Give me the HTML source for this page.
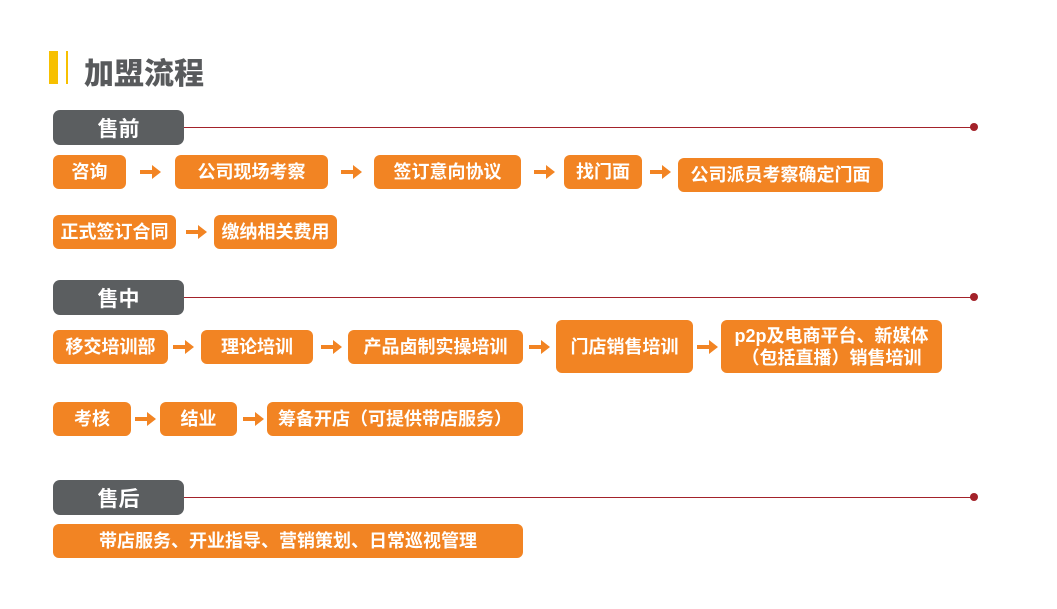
<!DOCTYPE html>
<html><head><meta charset="utf-8"><style>
*{margin:0;padding:0;box-sizing:border-box}
body{width:1057px;height:609px;background:#fff;position:relative;overflow:hidden;font-family:"Liberation Sans","Noto Sans CJK SC",sans-serif}
.b{position:absolute;background:#f28423;color:#fff;font-weight:bold;font-size:18px;border-radius:6px;display:flex;align-items:center;justify-content:center;text-align:center;line-height:22px}
.h{position:absolute;background:#5b5e60;color:#fff;font-weight:bold;font-size:21px;border-radius:7px;display:flex;align-items:center;justify-content:center;left:53px;width:131px;height:35px}
.l{position:absolute;left:184px;width:790px;height:1.5px;background:#a3222a}
.d{position:absolute;left:970px;width:8px;height:8px;border-radius:50%;background:#a3222a}
</style></head><body>
<div style="position:absolute;left:49px;top:51px;width:9px;height:33px;background:#f7c000"></div>
<div style="position:absolute;left:66px;top:51px;width:2px;height:33px;background:#f7c000"></div>
<div style="position:absolute;left:84px;top:49px;font-size:30px;font-weight:900;color:#585a5c;letter-spacing:0px">加盟流程</div>

<div class="h" style="top:110px">售前</div><div class="l" style="top:126.5px"></div><div class="d" style="top:123px"></div>
<div class="h" style="top:280px">售中</div><div class="l" style="top:296.5px"></div><div class="d" style="top:293px"></div>
<div class="h" style="top:480px">售后</div><div class="l" style="top:496.5px"></div><div class="d" style="top:493px"></div>

<div class="b" style="left:53px;top:155px;width:73px;height:34px">咨询</div>
<div class="b" style="left:175px;top:155px;width:153px;height:34px">公司现场考察</div>
<div class="b" style="left:374px;top:155px;width:147px;height:34px">签订意向协议</div>
<div class="b" style="left:564px;top:155px;width:78px;height:34px">找门面</div>
<div class="b" style="left:678px;top:158px;width:205px;height:34px">公司派员考察确定门面</div>

<div class="b" style="left:53px;top:215px;width:123px;height:34px">正式签订合同</div>
<div class="b" style="left:214px;top:215px;width:123px;height:34px">缴纳相关费用</div>

<div class="b" style="left:53px;top:330px;width:115px;height:34px">移交培训部</div>
<div class="b" style="left:201px;top:330px;width:112px;height:34px">理论培训</div>
<div class="b" style="left:348px;top:330px;width:175px;height:34px">产品卤制实操培训</div>
<div class="b" style="left:556px;top:320px;width:137px;height:53px">门店销售培训</div>
<div class="b" style="left:721px;top:320px;width:221px;height:53px">p2p及电商平台、新媒体<br>（包括直播）销售培训</div>

<div class="b" style="left:53px;top:402px;width:78px;height:34px">考核</div>
<div class="b" style="left:160px;top:402px;width:77px;height:34px">结业</div>
<div class="b" style="left:267px;top:402px;width:256px;height:34px">筹备开店（可提供带店服务）</div>

<div class="b" style="left:53px;top:524px;width:470px;height:34px">带店服务、开业指导、营销策划、日常巡视管理</div>

<svg width="1057" height="609" style="position:absolute;left:0;top:0" fill="#f28423">
<defs><path id="ar" d="M0 5h12V0l9 7-9 7V9H0z"/></defs>
<use href="#ar" x="140" y="165"/>
<use href="#ar" x="341" y="165"/>
<use href="#ar" x="534" y="165"/>
<use href="#ar" x="650" y="165"/>
<use href="#ar" x="186" y="225"/>
<use href="#ar" x="173" y="340"/>
<use href="#ar" x="321" y="340"/>
<use href="#ar" x="529" y="340"/>
<use href="#ar" x="697" y="340"/>
<use href="#ar" x="135" y="412"/>
<use href="#ar" x="243" y="412"/>
</svg>
</body></html>
